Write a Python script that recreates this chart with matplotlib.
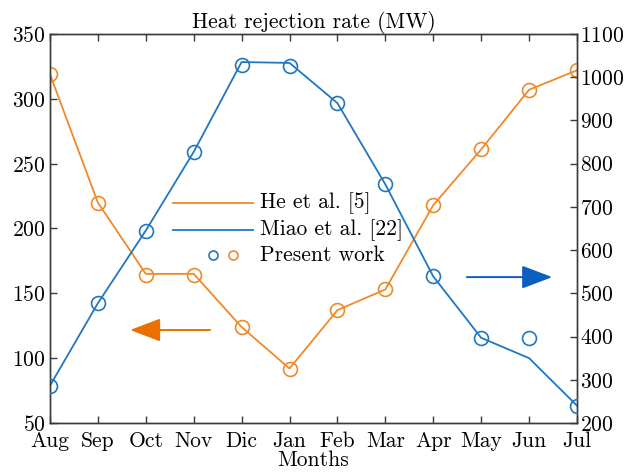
import matplotlib
matplotlib.use("Agg")
import matplotlib.pyplot as plt
from matplotlib.lines import Line2D

plt.rcParams['font.family'] = ['cmr10', 'DejaVu Serif']
plt.rcParams['axes.formatter.use_mathtext'] = True

months = ["Aug", "Sep", "Oct", "Nov", "Dic", "Jan", "Feb", "Mar", "Apr", "May", "Jun", "Jul"]
he_line = [319, 220, 165, 165, 124, 92, 137, 153, 218, 261, 307, 322]
he_present = [319, 220, 164, 164, 124, 92, 137, 153, 218, 261, 307, 322]
miao_line = [286, 477, 645, 827, 1035, 1033, 940, 752, 539, 397, 350, 240]
miao_present = [286, 477, 645, 827, 1028, 1025, 940, 752, 539, 397, 397, 240]

orange = '#F0892A'
blue = '#1F77C0'
axcol = '#3a3a3a'
fs = 15.5

fig = plt.figure(figsize=(6.4, 4.75), dpi=100)
ax = fig.add_axes([0.078, 0.1095, 0.8236, 0.819])
ax2 = ax.twinx()

x = list(range(len(months)))
ax.plot(x, he_line, color=orange, lw=1.3, zorder=2)
ax.plot(x, he_present, ls='none', marker='o', ms=10, mfc='none', mec=orange, mew=1.2, zorder=3)
ax2.plot(x, miao_line, color=blue, lw=1.3, zorder=2)
ax2.plot(x, miao_present, ls='none', marker='o', ms=10, mfc='none', mec=blue, mew=1.2, zorder=3)

ax.set_xlim(0, len(months) - 1)
ax.set_ylim(50, 350)
ax2.set_ylim(200, 1100)
ax.set_xticks(x)
ax.set_xticklabels(months)
ax.set_yticks(range(50, 351, 50))
ax2.set_yticks(range(200, 1101, 100))

for a in (ax, ax2):
    for s in a.spines.values():
        s.set_color(axcol)
        s.set_linewidth(1.0)
ax.tick_params(axis='x', direction='in', top=True, length=5, width=1, color=axcol, labelsize=fs, pad=6)
ax.tick_params(axis='y', direction='in', length=5, width=1, color=axcol, labelsize=fs, pad=3)
ax2.tick_params(axis='y', direction='in', length=5, width=1, color=axcol, labelsize=fs, pad=2)

ax.set_title("Heat rejection rate (MW)", fontsize=fs, pad=3)
ax.set_xlabel("Months", fontsize=fs, labelpad=0)

# manual legend (no frame)
T = ax.transAxes
ax.add_line(Line2D([0.233, 0.385], [0.566, 0.566], color=orange, lw=1.3, transform=T))
ax.add_line(Line2D([0.233, 0.385], [0.496, 0.496], color=blue, lw=1.3, transform=T))
ax.add_line(Line2D([0.309], [0.432], ls='none', marker='o', ms=6.5, mfc='none', mec=blue, mew=1.2, transform=T))
ax.add_line(Line2D([0.347], [0.432], ls='none', marker='o', ms=6.5, mfc='none', mec=orange, mew=1.2, transform=T))
ax.text(0.398, 0.566, "He et al. [5]", transform=T, fontsize=fs, va='center')
ax.text(0.398, 0.496, "Miao et al. [22]", transform=T, fontsize=fs, va='center')
ax.text(0.398, 0.432, "Present work", transform=T, fontsize=fs, va='center')

# arrows
ax.annotate("", xy=(0.152, 0.239), xytext=(0.304, 0.239), xycoords=T, textcoords=T,
            arrowprops=dict(arrowstyle='-|>,head_length=1.9,head_width=0.72', mutation_scale=10,
                            color='#EC7000', lw=1.4, shrinkA=0, shrinkB=0))
ax.annotate("", xy=(0.953, 0.375), xytext=(0.791, 0.375), xycoords=T, textcoords=T,
            arrowprops=dict(arrowstyle='-|>,head_length=1.9,head_width=0.72', mutation_scale=10,
                            color='#0A5EC0', lw=1.4, shrinkA=0, shrinkB=0))

fig.savefig("out.png", dpi=100)
